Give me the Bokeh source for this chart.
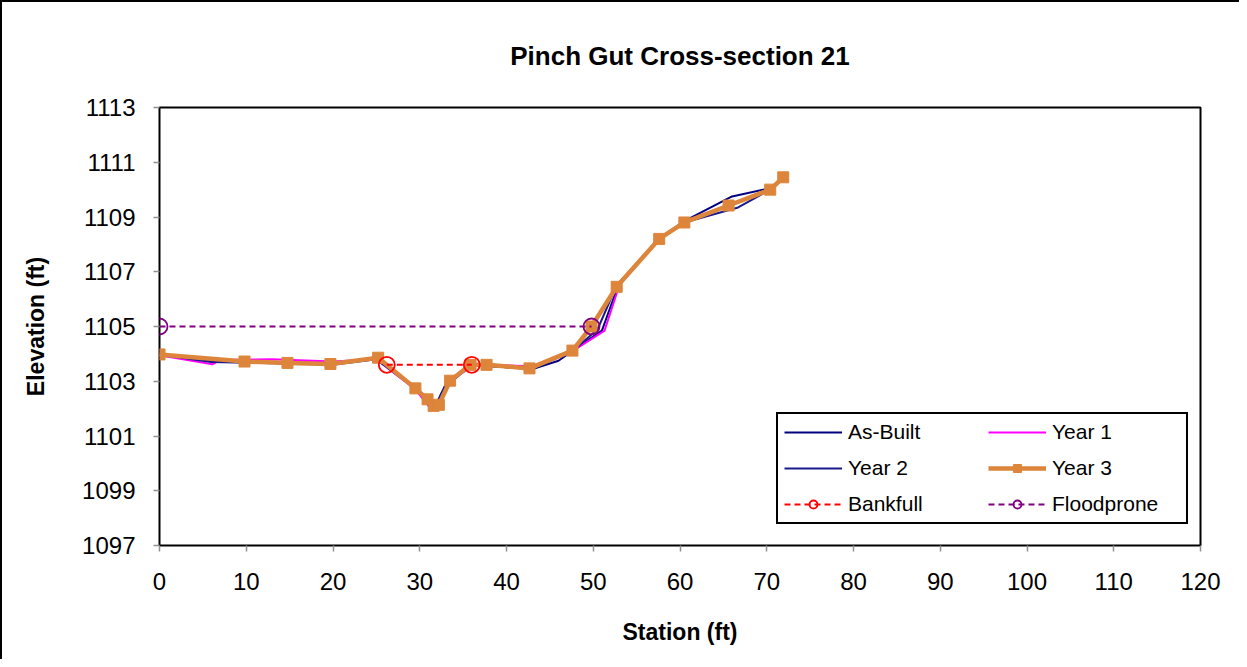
from bokeh.plotting import figure
from bokeh.models import Range1d, FixedTicker, Legend, LegendItem
from bokeh.embed import file_html
from bokeh.resources import INLINE

# ---- data ----
x_ticks = [0, 10, 20, 30, 40, 50, 60, 70, 80, 90, 100, 110, 120]
y_ticks = [1097, 1099, 1101, 1103, 1105, 1107, 1109, 1111, 1113]

asbuilt_x = [0, 6, 10, 20, 25.1, 29.5, 31.0, 31.8, 32.5, 33.5, 36.0, 43.0, 46.0, 48.0, 51.0, 53.0, 58.0, 60.5, 66.0, 70.4, 71.9]
asbuilt_y = [1103.95, 1103.72, 1103.7, 1103.68, 1103.8, 1102.8, 1102.2, 1102.05, 1102.55, 1102.95, 1103.6, 1103.45, 1103.75, 1104.2, 1104.85, 1106.6, 1108.3, 1108.85, 1109.75, 1110.05, 1110.4]

year1_x = [0, 6.1, 7.0, 13.0, 20.0, 25.0, 29.5, 31.0, 31.8, 33.5, 36.0, 38.0, 43.0, 47.6, 51.3, 53.0, 57.6, 60.5, 65.6, 70.4, 71.9]
year1_y = [1103.95, 1103.62, 1103.78, 1103.8, 1103.72, 1103.8, 1102.7, 1102.1, 1102.0, 1103.0, 1103.55, 1103.6, 1103.55, 1104.1, 1104.85, 1106.5, 1108.2, 1108.8, 1109.45, 1110.0, 1110.45]

year2_x = [0, 6.0, 10.0, 20.0, 25.0, 29.5, 31.0, 31.8, 33.0, 36.0, 43.0, 47.6, 50.5, 52.7, 57.6, 60.5, 66.7, 70.4, 71.9]
year2_y = [1103.98, 1103.7, 1103.68, 1103.6, 1103.8, 1102.75, 1102.25, 1102.1, 1102.9, 1103.6, 1103.45, 1104.1, 1104.9, 1106.5, 1108.2, 1108.8, 1109.35, 1110.0, 1110.4]

year3_x = [0, 9.8, 14.75, 19.7, 25.2, 29.5, 30.9, 31.6, 32.2, 33.5, 35.85, 37.7, 42.65, 47.6, 49.8, 52.7, 57.6, 60.5, 65.6, 70.4, 71.9]
year3_y = [1103.98, 1103.72, 1103.67, 1103.63, 1103.86, 1102.74, 1102.34, 1102.1, 1102.14, 1103.02, 1103.6, 1103.6, 1103.47, 1104.12, 1105.0, 1106.45, 1108.2, 1108.8, 1109.42, 1110.0, 1110.45]

bankfull_x = [26.2, 36.0]
bankfull_y = [1103.6, 1103.6]

floodprone_x = [0, 49.8]
floodprone_y = [1105.0, 1105.0]

FONT = "Liberation Sans"

p = figure(width=1239, height=659, x_range=Range1d(0, 120), y_range=Range1d(1097, 1113),
           output_backend="svg", toolbar_location=None,
           min_border_left=157, min_border_right=41, min_border_top=104, min_border_bottom=116)

p.title.text = "Pinch Gut Cross-section 21"
p.title.align = "center"
p.title.text_font = FONT
p.title.text_font_size = "26px"
p.title.text_font_style = "bold"
p.title.text_color = "black"
p.title.standoff = 73

p.xgrid.grid_line_color = None
p.ygrid.grid_line_color = None
p.outline_line_color = "black"
p.outline_line_width = 2
p.outline_line_alpha = 1.0
p.background_fill_color = "white"
p.border_fill_color = "white"

for ax in (p.xaxis[0], p.yaxis[0]):
    ax.axis_line_color = None
    ax.major_tick_line_color = "#909090"
    ax.major_tick_line_width = 1.5
    ax.major_tick_in = 0
    ax.major_tick_out = 6
    ax.minor_tick_line_color = None
    ax.major_label_text_font = FONT
    ax.major_label_text_font_size = "24px"
    ax.major_label_text_color = "black"
    ax.axis_label_text_font = FONT
    ax.axis_label_text_font_size = "23px"
    ax.axis_label_text_font_style = "bold"
    ax.axis_label_text_color = "black"

p.xaxis.ticker = FixedTicker(ticks=x_ticks)
p.yaxis.ticker = FixedTicker(ticks=y_ticks)
p.xaxis.axis_label = "Station (ft)"
p.yaxis.axis_label = "Elevation (ft)"
p.xaxis.major_label_standoff = 21
p.xaxis.axis_label_standoff = 26
p.yaxis.major_label_standoff = 18
p.yaxis.axis_label_standoff = 30

r_ab = p.line(asbuilt_x, asbuilt_y, line_color="#000080", line_width=2)
r_y1 = p.line(year1_x, year1_y, line_color="#FF00FF", line_width=2)
r_y2 = p.line(year2_x, year2_y, line_color="#1a1a8c", line_width=2)
r_y3 = p.line(year3_x, year3_y, line_color="#DD853B", line_width=4.5)
r_y3m = p.scatter(year3_x, year3_y, marker="square", size=11, fill_color="#DD853B", line_color="#DD853B")
r_bf = p.line(bankfull_x, bankfull_y, line_color="#FF0000", line_width=2, line_dash="6 4")
r_bfm = p.scatter(bankfull_x, bankfull_y, marker="circle", size=16, fill_color=None, line_color="#FF0000", line_width=1.8)
r_fp = p.line(floodprone_x, floodprone_y, line_color="#800080", line_width=2, line_dash="6 4")
r_fpm = p.scatter(floodprone_x, floodprone_y, marker="circle", size=16, fill_color=None, line_color="#800080", line_width=1.8)

legend = Legend(items=[
    LegendItem(label="As-Built", renderers=[r_ab]),
    LegendItem(label="Year 2", renderers=[r_y2]),
    LegendItem(label="Bankfull", renderers=[r_bf, r_bfm]),
    LegendItem(label="Year 1", renderers=[r_y1]),
    LegendItem(label="Year 3", renderers=[r_y3, r_y3m]),
    LegendItem(label="Floodprone", renderers=[r_fp, r_fpm]),
], location=(617, 21), ncols=2, glyph_width=58, glyph_height=20, label_standoff=6,
   label_width=128, spacing=12, padding=6, margin=0,
   label_text_font=FONT, label_text_font_size="21px", label_text_color="black",
   border_line_color="black", border_line_width=2, border_line_alpha=1.0,
   background_fill_alpha=1.0)
p.add_layout(legend)

p.styles = {"border-top": "2px solid black", "border-left": "2px solid black"}

open("out.html", "w").write(file_html(p, INLINE))
